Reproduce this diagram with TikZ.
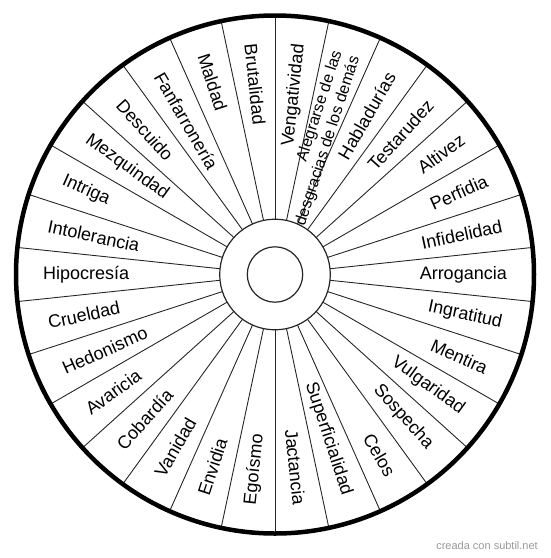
\documentclass[tikz,border=0pt]{standalone}
\usepackage{fontspec}
\setmainfont{Liberation Sans}
\begin{document}
\begin{tikzpicture}[x=1pt,y=1pt,
  spoke/.style={draw=black!85,line width=0.9pt},
  ring/.style={draw=black!85,line width=1.2pt},
  rim/.style={draw=black,line width=4.5pt},
  lbl/.style={inner sep=0pt,font=\fontsize{18}{20}\selectfont},
  lblsmall/.style={inner sep=0pt,align=right,font=\fontsize{16}{18.5}\selectfont},
  wmark/.style={text=black!40,font=\fontsize{11}{13}\selectfont,inner sep=0pt}]
\useasboundingbox (0,0) rectangle (550,-558);
\coordinate (C) at (275,-274.5);
\begin{scope}[shift={(C)}]
  \foreach \i in {0,...,29}{
    \pgfmathsetmacro{\a}{6+12*\i}
    \draw[spoke] (\a:55.3) -- (\a:259);
  }
  \draw[ring] (0,0) circle[radius=55.3];
  \draw[ring] (0,0) circle[radius=27.7];
  \draw[rim] (0,0) circle[radius=259];
  \foreach \t [count=\k from 0] in {Arrogancia,Infidelidad,Perfidia,Altivez,Testarudez,Habladurías,ALEG,Vengatividad,Brutalidad,Maldad,Fanfarronería,Descuido,Mezquindad,Intriga,Intolerancia,Hipocresía,Crueldad,Hedonismo,Avaricia,Cobardía,Vanidad,Envidia,Egoísmo,Jactancia,Superficialidad,Celos,Sospecha,Vulgaridad,Mentira,Ingratitud}{
    \pgfmathtruncatemacro{\ang}{12*\k}
    \pgfmathtruncatemacro{\rside}{(\ang<=90)||(\ang>=270)}
    \ifnum\k=6
      \node[lblsmall,anchor=east,rotate=\ang] (l\k) at (\ang:232) {Alegrarse de las\\desgracias de los demás};
    \else
      \ifnum\rside=1
        \node[lbl,anchor=east,rotate=\ang] (l\k) at (\ang:232) {\t};
      \else
        \node[lbl,anchor=west,rotate=\ang-180] (l\k) at (\ang:232) {\t};
      \fi
    \fi
  }
\end{scope}
\node[wmark,anchor=east] (wm) at (538,-546) {creada con subtil.net};
\end{tikzpicture}
\end{document}
